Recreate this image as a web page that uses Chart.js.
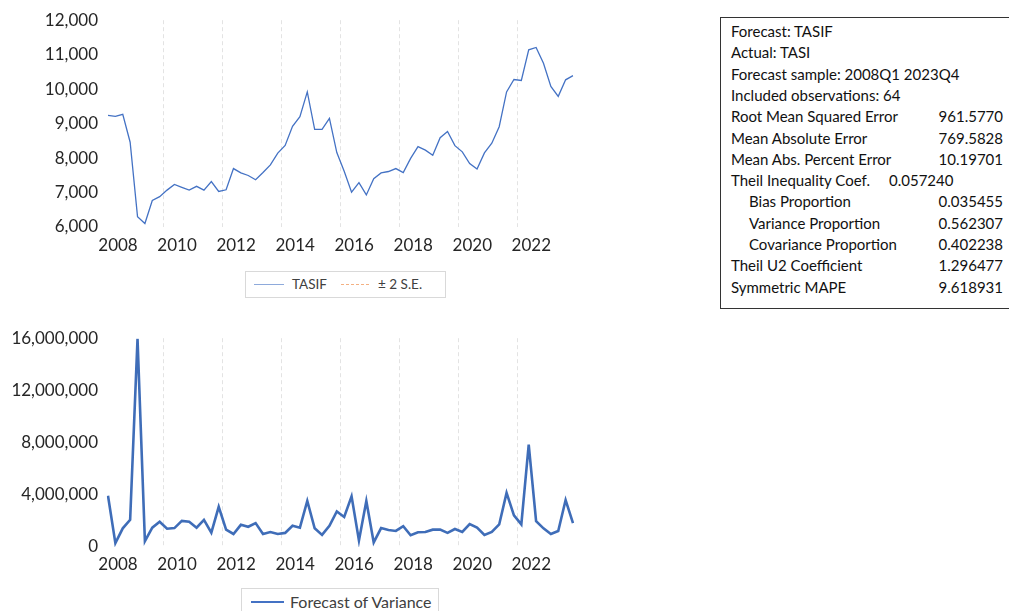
<!DOCTYPE html>
<html>
<head>
<meta charset="utf-8">
<script src="https://cdn.jsdelivr.net/npm/chart.js@4.4.1/dist/chart.umd.min.js"></script>
<style>
  body { margin: 0; width: 1009px; height: 611px; overflow: hidden; background: #fff; position: relative; font-family: Lato, "Noto Sans", sans-serif; }
  canvas { position: absolute; left: 0; }
  #topChart { top: 0; }
  #botChart { top: 318px; }
  .legend { position: absolute; border: 1px solid #d9d9d9; background: #fff; color: #404040; box-sizing: border-box; }
  .legend span { position: absolute; white-space: nowrap; }
  .legend i { position: absolute; display: block; height: 0; }
  #stats { position: absolute; left: 720px; top: 17px; width: 300px; height: 292px; border: 1px solid #333; box-sizing: border-box; font-size: 15px; color: #111; }
  #stats div { position: absolute; white-space: nowrap; line-height: 16px; }
</style>
</head>
<body>
<canvas id="topChart" width="600" height="262"></canvas>
<canvas id="botChart" width="600" height="263"></canvas>

<div class="legend" style="left:245px;top:271px;width:201px;height:27px;font-size:13.5px;">
  <i style="left:8px;top:12px;width:30px;border-top:1.5px solid #8eaadb;"></i>
  <span style="left:46px;top:4px;">TASIF</span>
  <i style="left:95px;top:12px;width:28px;border-top:1.5px dashed #f4b183;"></i>
  <span style="left:132px;top:4px;">± 2 S.E.</span>
</div>
<div class="legend" style="left:241px;top:588px;width:198px;height:30px;font-size:16px;">
  <i style="left:9px;top:12px;width:33px;border-top:2.5px solid #4472c4;"></i>
  <span style="left:48px;top:3px;">Forecast of Variance</span>
</div>

<div id="stats"></div>

<script>
// quarterly sample 2008Q1 - 2023Q4
const years = [2008, 2009, 2010, 2011, 2012, 2013, 2014, 2015, 2016, 2017, 2018, 2019, 2020, 2021, 2022, 2023];
const quarters = [];
years.forEach(y => { for (let q = 1; q <= 4; q++) quarters.push(y + 'Q' + q); });

const yearTicks = ['2008', '2010', '2012', '2014', '2016', '2018', '2020', '2022'];

// forecast TASIF
const tasif = [
  9240, 9210, 9270, 8460, 6300, 6100, 6770, 6880,
  7070, 7235, 7150, 7070, 7180, 7070, 7320, 7030,
  7080, 7695, 7570, 7495, 7370, 7580, 7800, 8145,
  8365, 8920, 9200, 9920, 8830, 8830, 9150, 8160,
  7620, 7010, 7285, 6930, 7400, 7570, 7610, 7695,
  7580, 7990, 8330, 8230, 8080, 8590, 8770, 8360,
  8180, 7840, 7680, 8150, 8430, 8910, 9920, 10280,
  10250, 11140, 11210, 10750, 10080, 9790, 10270, 10390
];

// forecast of variance
const fcVariance = [
  3930000, 300000, 1430000, 2080000, 15950000, 450000, 1480000, 1930000,
  1400000, 1450000, 2000000, 1930000, 1480000, 2080000, 1100000, 3080000,
  1330000, 1000000, 1700000, 1550000, 1830000, 1000000, 1150000, 1000000,
  1080000, 1630000, 1480000, 3530000, 1430000, 930000, 1630000, 2730000,
  2300000, 3880000, 500000, 3530000, 350000, 1450000, 1300000, 1230000,
  1600000, 900000, 1130000, 1150000, 1330000, 1330000, 1080000, 1380000,
  1150000, 1750000, 1480000, 930000, 1150000, 1730000, 4150000, 2430000,
  1730000, 7850000, 1980000, 1430000, 1000000, 1230000, 3600000, 1830000
];

// evaluation table
const statLabels = [
  'Forecast: TASIF', 'Actual: TASI', 'Forecast sample: 2008Q1 2023Q4', 'Included observations: 64',
  'Root Mean Squared Error', 'Mean Absolute Error', 'Mean Abs. Percent Error', 'Theil Inequality Coef.',
  'Bias Proportion', 'Variance Proportion', 'Covariance Proportion', 'Theil U2 Coefficient', 'Symmetric MAPE'
];
const statValues = ['', '', '', '', '961.5770', '769.5828', '10.19701', '0.057240', '0.035455', '0.562307', '0.402238', '1.296477', '9.618931'];
const indented = [8, 9, 10];

const statsBox = document.getElementById('stats');
statLabels.forEach((lab, i) => {
  const top = 5 + i * 21.3;
  const l = document.createElement('div');
  l.textContent = lab;
  l.style.left = (indented.includes(i) ? 28 : 10) + 'px';
  l.style.top = top + 'px';
  statsBox.appendChild(l);
  if (statValues[i]) {
    const v = document.createElement('div');
    v.textContent = statValues[i];
    v.style.top = top + 'px';
    if (i === 7) v.style.left = '168px';
    else v.style.right = '16px';
    statsBox.appendChild(v);
  }
});

const tickFont = { family: 'Lato', size: 17 };

function xAxis(xHeight, pad) {
  return {
    type: 'category',
    offset: false,
    afterFit: s => { s.height = xHeight; },
    grid: {
      offset: true,
      drawTicks: false,
      lineWidth: 1,
      color: c => (c.index % 8 === 0 && c.index > 0 && c.index < 64) ? '#e3e3e3' : 'rgba(0,0,0,0)'
    },
    border: { display: false, dash: [4, 3] },
    ticks: {
      autoSkip: false,
      maxRotation: 0,
      padding: pad,
      labelOffset: 10,
      color: '#262626',
      font: tickFont,
      callback: (v, i) => i % 8 === 0 ? yearTicks[i / 8] : ''
    }
  };
}

function yAxis(min, max, step) {
  return {
    min: min, max: max,
    afterFit: s => { s.width = 108; },
    grid: { display: false, drawTicks: false },
    border: { display: false },
    ticks: {
      stepSize: step,
      padding: 10,
      color: '#262626',
      font: tickFont,
      callback: v => v.toLocaleString('en-US')
    }
  };
}

function baseOptions(min, max, step, padTop, xHeight, xPad) {
  return {
    responsive: false,
    animation: false,
    layout: { padding: { top: padTop, right: 27, left: 0, bottom: 0 } },
    plugins: { legend: { display: false }, tooltip: { enabled: false } },
    scales: { x: xAxis(xHeight, xPad), y: yAxis(min, max, step) }
  };
}

new Chart(document.getElementById('topChart'), {
  type: 'line',
  data: {
    labels: quarters,
    datasets: [{ label: 'TASIF', data: tasif, borderColor: '#4472c4', borderWidth: 1.3, pointRadius: 0, tension: 0 }]
  },
  options: baseOptions(6000, 12000, 1000, 17, 35, 8)
});

new Chart(document.getElementById('botChart'), {
  type: 'line',
  data: {
    labels: quarters,
    datasets: [{ label: 'Forecast of Variance', data: fcVariance, borderColor: '#3f6db8', borderWidth: 2.6, pointRadius: 0, tension: 0 }]
  },
  options: baseOptions(0, 16000000, 4000000, 18, 34, 7)
});
</script>
</body>
</html>
